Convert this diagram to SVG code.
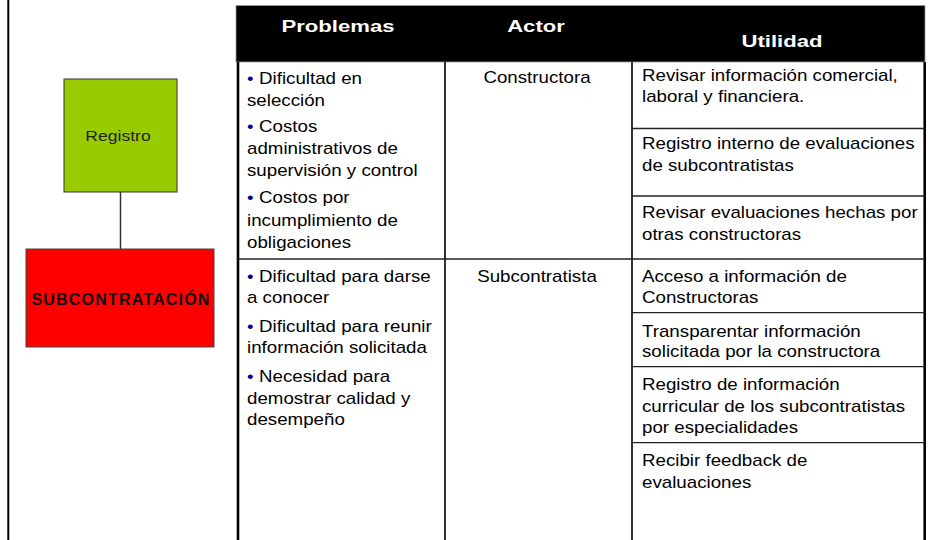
<svg xmlns="http://www.w3.org/2000/svg" width="952" height="540" viewBox="0 0 952 540">
<style>
text{font-family:"Liberation Sans",Arial,sans-serif}
.b{font-size:16px;fill:#000}
.h{font-size:17px;font-weight:bold;fill:#fff}
.bul{fill:#000080}
.ln{stroke:#222;stroke-width:1.3}
.col{stroke:#000;stroke-width:1.6}
.thick{stroke:#000;stroke-width:2.6}
</style>
<rect width="952" height="540" fill="#fff"/>
<line x1="8.3" y1="0" x2="8.3" y2="540" stroke="#000" stroke-width="2"/>

<g id="connectors">
<line x1="120.5" y1="192" x2="120.5" y2="249" stroke="#333" stroke-width="1.5"/>
</g>

<g id="registro">
<rect x="64" y="79" width="113" height="113" fill="#99CC00" stroke="#333" stroke-width="1"/>
<text transform="translate(118 0) scale(1.17 1)" text-anchor="middle" font-size="15" fill="#222"><tspan x="0" y="141.5">Registro</tspan></text>
</g>

<g id="subcontratacion">
<rect x="26" y="249" width="188" height="98" fill="#FF0000" stroke="#444" stroke-width="1"/>
<text x="121" y="305" text-anchor="middle" font-size="16" font-weight="bold" letter-spacing="1.2" fill="#111">SUBCONTRATACIÓN</text>
</g>

<g id="tabla">
<rect x="236" y="5.5" width="689" height="56.5" fill="#000" stroke="#999" stroke-width="0.8"/>
<text class="h" transform="translate(338 0) scale(1.3 1)" text-anchor="middle"><tspan x="0" y="32">Problemas</tspan></text>
<text class="h" transform="translate(536 0) scale(1.3 1)" text-anchor="middle"><tspan x="0" y="32">Actor</tspan></text>
<text class="h" transform="translate(782 0) scale(1.3 1)" text-anchor="middle"><tspan x="0" y="47">Utilidad</tspan></text>

<line class="thick" x1="238" y1="62" x2="238" y2="540"/>
<line class="thick" x1="924.7" y1="62" x2="924.7" y2="540"/>
<line class="col" x1="445" y1="62" x2="445" y2="540"/>
<line class="col" x1="632" y1="62" x2="632" y2="540"/>
<line class="ln" x1="238" y1="259" x2="925" y2="259"/>
<line class="ln" x1="632" y1="128.5" x2="925" y2="128.5"/>
<line class="ln" x1="632" y1="196" x2="925" y2="196"/>
<line class="ln" x1="632" y1="312.7" x2="925" y2="312.7"/>
<line class="ln" x1="632" y1="366.7" x2="925" y2="366.7"/>
<line class="ln" x1="632" y1="442.7" x2="925" y2="442.7"/>

<text class="b" transform="translate(247 0) scale(1.17 1)">
<tspan x="0" y="84" class="bul">•</tspan><tspan x="10.3">Dificultad en</tspan>
<tspan x="0" y="106">selección</tspan>
<tspan x="0" y="132" class="bul">•</tspan><tspan x="10.3">Costos</tspan>
<tspan x="0" y="154">administrativos de</tspan>
<tspan x="0" y="176">supervisión y control</tspan>
<tspan x="0" y="203" class="bul">•</tspan><tspan x="10.3">Costos por</tspan>
<tspan x="0" y="226">incumplimiento de</tspan>
<tspan x="0" y="248">obligaciones</tspan>
</text>
<text class="b" transform="translate(247 0) scale(1.17 1)">
<tspan x="0" y="281.7" class="bul">•</tspan><tspan x="10.3">Dificultad para darse</tspan>
<tspan x="0" y="303.3">a conocer</tspan>
<tspan x="0" y="331.7" class="bul">•</tspan><tspan x="10.3">Dificultad para reunir</tspan>
<tspan x="0" y="353.3">información solicitada</tspan>
<tspan x="0" y="381.7" class="bul">•</tspan><tspan x="10.3">Necesidad para</tspan>
<tspan x="0" y="404">demostrar calidad y</tspan>
<tspan x="0" y="425.5">desempeño</tspan>
</text>

<text class="b" transform="translate(537 0) scale(1.17 1)" text-anchor="middle"><tspan x="0" y="83.5">Constructora</tspan></text>
<text class="b" transform="translate(537 0) scale(1.17 1)" text-anchor="middle"><tspan x="0" y="281.7">Subcontratista</tspan></text>

<text class="b" transform="translate(642 0) scale(1.17 1)">
<tspan x="0" y="81">Revisar información comercial,</tspan>
<tspan x="0" y="102.5">laboral y financiera.</tspan>
<tspan x="0" y="149.5">Registro interno de evaluaciones</tspan>
<tspan x="0" y="171.5">de subcontratistas</tspan>
<tspan x="0" y="217.7">Revisar evaluaciones hechas por</tspan>
<tspan x="0" y="240">otras constructoras</tspan>
<tspan x="0" y="281.7">Acceso a información de</tspan>
<tspan x="0" y="303.3">Constructoras</tspan>
<tspan x="0" y="336.7">Transparentar información</tspan>
<tspan x="0" y="357.3">solicitada por la constructora</tspan>
<tspan x="0" y="390">Registro de información</tspan>
<tspan x="0" y="412">curricular de los subcontratistas</tspan>
<tspan x="0" y="433">por especialidades</tspan>
<tspan x="0" y="466">Recibir feedback de</tspan>
<tspan x="0" y="488">evaluaciones</tspan>
</text>
</g>
</svg>
